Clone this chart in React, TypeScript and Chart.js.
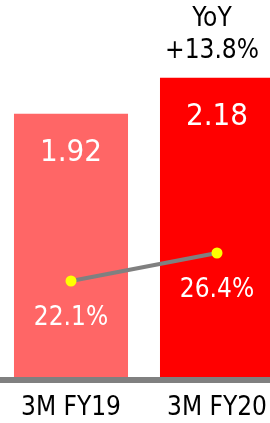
import React, { useEffect, useRef } from "react";
import { Chart, registerables } from "chart.js";

Chart.register(...registerables);

const categories = ["3M FY19", "3M FY20"];
const barValues = [1.92, 2.18];
const barLabels = ["1.92", "2.18"];
const marginValues = [22.1, 26.4];
const marginLabels = ["22.1%", "26.4%"];
const yoyLines = ["YoY", "+13.8%"];
const barColors = ["#FF6666", "#FF0000"];

const FONT = "'DejaVu Sans Condensed', 'DejaVu Sans', sans-serif";

const labelPlugin = {
  id: "customLabels",
  afterDatasetsDraw(chart: any) {
    const ctx = chart.ctx;
    const barMeta = chart.getDatasetMeta(1);
    const lineMeta = chart.getDatasetMeta(0);
    ctx.save();
    ctx.textAlign = "center";
    ctx.textBaseline = "middle";
    ctx.fillStyle = "#FFFFFF";
    ctx.font = `31px ${FONT}`;
    barMeta.data.forEach((bar: any, i: number) => {
      ctx.fillText(barLabels[i], bar.x, bar.y + 39);
    });
    ctx.font = `26px ${FONT}`;
    lineMeta.data.forEach((pt: any, i: number) => {
      ctx.fillText(marginLabels[i], pt.x, pt.y + 37);
    });
    const last = barMeta.data[barMeta.data.length - 1];
    ctx.fillStyle = "#000000";
    ctx.font = `26px ${FONT}`;
    ctx.fillText(yoyLines[0], last.x - 5, 19);
    ctx.fillText(yoyLines[1], last.x - 5, 51);
    ctx.restore();
  },
};

export default function App() {
  const ref = useRef<HTMLCanvasElement | null>(null);
  useEffect(() => {
    if (!ref.current) return;
    const chart = new Chart(ref.current, {
      type: "bar",
      data: {
        labels: categories,
        datasets: [
          {
            type: "line",
            data: marginValues,
            yAxisID: "y1",
            borderColor: "#808080",
            borderWidth: 4,
            pointBackgroundColor: "#FFFF00",
            pointBorderColor: "#FFFF00",
            pointRadius: 5.5,
            pointBorderWidth: 0,
            order: 0,
          } as any,
          {
            type: "bar",
            data: barValues,
            yAxisID: "y",
            backgroundColor: barColors,
            categoryPercentage: 1,
            barPercentage: 0.781,
            order: 1,
          } as any,
        ],
      },
      plugins: [labelPlugin],
      options: {
        animation: false,
        responsive: false,
        layout: { padding: 0, autoPadding: false },
        plugins: { legend: { display: false }, tooltip: { enabled: false } },
        scales: {
          x: {
            grid: { display: false, drawTicks: false },
            border: { display: true, color: "#808080", width: 6, z: 1 },
            ticks: {
              color: "#000000",
              font: { family: FONT, size: 26 },
              padding: 13,
              maxRotation: 0,
            },
            afterFit(scale: any) {
              scale.height = 43;
            },
          },
          y: { display: false, min: 0, max: 2.74 },
          y1: { display: false, min: 6.9, max: 65.25 },
        },
      },
    });
    return () => chart.destroy();
  }, []);
  return (
    <div style={{ position: "fixed", left: 0, top: 0, width: 270, height: 423, overflow: "hidden", background: "#fff" }}>
      <div style={{ position: "absolute", left: -2, top: 0, width: 292, height: 423 }}>
        <canvas ref={ref} width={292} height={423} style={{ width: 292, height: 423 }} />
      </div>
    </div>
  );
}
